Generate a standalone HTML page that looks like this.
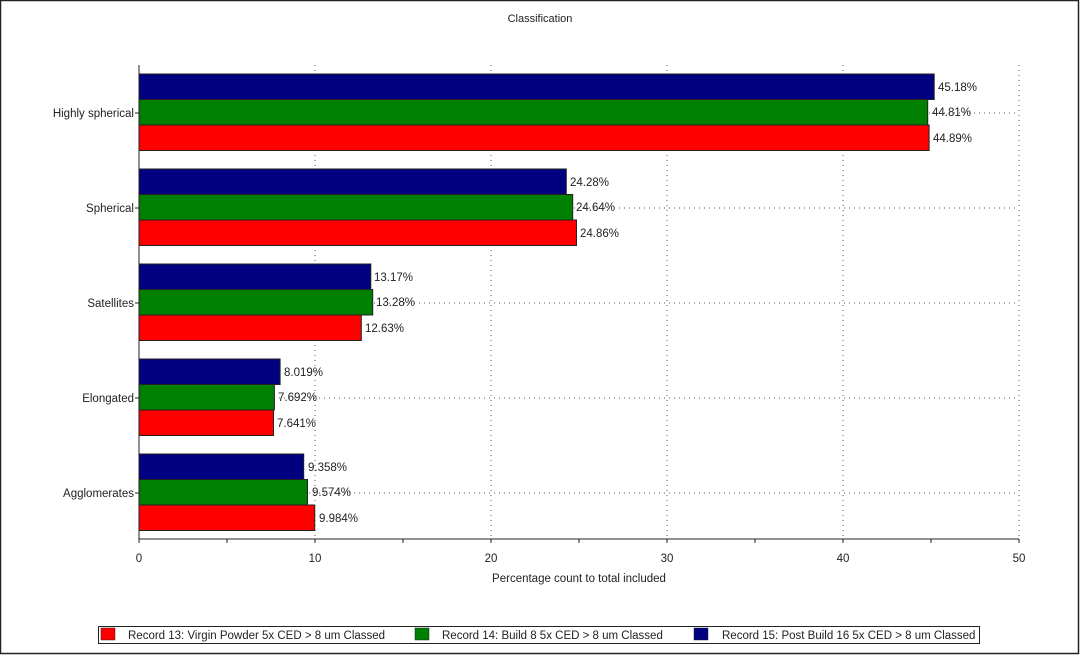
<!DOCTYPE html>
<html><head><meta charset="utf-8"><style>
html,body{margin:0;padding:0;background:#fff}
svg{display:block;font-family:"Liberation Sans",Arial,sans-serif}
</style></head><body>
<svg width="1080" height="655" viewBox="0 0 1080 655" xmlns="http://www.w3.org/2000/svg">
<rect x="0.5" y="0.5" width="1078" height="653" fill="#fff" stroke="#222" stroke-width="1.5"/>
<text x="540" y="22" font-size="11" text-anchor="middle" fill="#222">Classification</text>
<g stroke="#555" stroke-width="1" stroke-dasharray="1,4">
<line x1="315" y1="65" x2="315" y2="539"/><line x1="491" y1="65" x2="491" y2="539"/>
<line x1="667" y1="65" x2="667" y2="539"/><line x1="843" y1="65" x2="843" y2="539"/>
<line x1="1019" y1="65" x2="1019" y2="539"/>
<line x1="139" y1="113" x2="1019" y2="113"/><line x1="139" y1="208" x2="1019" y2="208"/>
<line x1="139" y1="303" x2="1019" y2="303"/><line x1="139" y1="398" x2="1019" y2="398"/>
<line x1="139" y1="493" x2="1019" y2="493"/>
</g>
<g stroke="#222" stroke-width="1">
<rect x="139" y="74" width="795.2" height="25.5" fill="#000080"/>
<rect x="139" y="99.5" width="788.7" height="25.5" fill="#008000"/>
<rect x="139" y="125" width="790.1" height="25.5" fill="#ff0000"/>
<rect x="139" y="169" width="427.3" height="25.5" fill="#000080"/>
<rect x="139" y="194.5" width="433.7" height="25.5" fill="#008000"/>
<rect x="139" y="220" width="437.5" height="25.5" fill="#ff0000"/>
<rect x="139" y="264" width="231.8" height="25.5" fill="#000080"/>
<rect x="139" y="289.5" width="233.7" height="25.5" fill="#008000"/>
<rect x="139" y="315" width="222.3" height="25.5" fill="#ff0000"/>
<rect x="139" y="359" width="141.1" height="25.5" fill="#000080"/>
<rect x="139" y="384.5" width="135.4" height="25.5" fill="#008000"/>
<rect x="139" y="410" width="134.5" height="25.5" fill="#ff0000"/>
<rect x="139" y="454" width="164.7" height="25.5" fill="#000080"/>
<rect x="139" y="479.5" width="168.5" height="25.5" fill="#008000"/>
<rect x="139" y="505" width="175.7" height="25.5" fill="#ff0000"/>
</g>
<g font-size="11.5" fill="#222">
<text x="938" y="91">45.18%</text><text x="932" y="116">44.81%</text><text x="933" y="142">44.89%</text>
<text x="570" y="186">24.28%</text><text x="576" y="211">24.64%</text><text x="580" y="237">24.86%</text>
<text x="374" y="281">13.17%</text><text x="376" y="306">13.28%</text><text x="365" y="332">12.63%</text>
<text x="284" y="376">8.019%</text><text x="278" y="401">7.692%</text><text x="277" y="427">7.641%</text>
<text x="308" y="471">9.358%</text><text x="312" y="496">9.574%</text><text x="319" y="522">9.984%</text>
</g>
<g stroke="#222" stroke-width="1">
<line x1="139" y1="65" x2="139" y2="539"/>
<line x1="139" y1="539" x2="1019" y2="539"/>
<line x1="135" y1="113" x2="139" y2="113"/><line x1="135" y1="208" x2="139" y2="208"/>
<line x1="135" y1="303" x2="139" y2="303"/><line x1="135" y1="398" x2="139" y2="398"/>
<line x1="135" y1="493" x2="139" y2="493"/>
<line x1="139" y1="539" x2="139" y2="543"/><line x1="227" y1="539" x2="227" y2="543"/>
<line x1="315" y1="539" x2="315" y2="543"/><line x1="403" y1="539" x2="403" y2="543"/>
<line x1="491" y1="539" x2="491" y2="543"/><line x1="579" y1="539" x2="579" y2="543"/>
<line x1="667" y1="539" x2="667" y2="543"/><line x1="755" y1="539" x2="755" y2="543"/>
<line x1="843" y1="539" x2="843" y2="543"/><line x1="931" y1="539" x2="931" y2="543"/>
<line x1="1019" y1="539" x2="1019" y2="543"/>
</g>
<g font-size="11.5" fill="#222" text-anchor="end">
<text x="134" y="117">Highly spherical</text><text x="134" y="212">Spherical</text>
<text x="134" y="307">Satellites</text><text x="134" y="402">Elongated</text>
<text x="134" y="497">Agglomerates</text>
</g>
<g font-size="11.5" fill="#222" text-anchor="middle">
<text x="139" y="562">0</text><text x="315" y="562">10</text><text x="491" y="562">20</text>
<text x="667" y="562">30</text><text x="843" y="562">40</text><text x="1019" y="562">50</text>
<text x="579" y="582">Percentage count to total included</text>
</g>
<rect x="98.5" y="626.5" width="881" height="17" fill="#fff" stroke="#222" stroke-width="1"/>
<rect x="101" y="628" width="14" height="12" fill="#ff0000" stroke="#222" stroke-width="0.5"/>
<rect x="415" y="628" width="14" height="12" fill="#008000" stroke="#222" stroke-width="0.5"/>
<rect x="694" y="628" width="14" height="12" fill="#000080" stroke="#222" stroke-width="0.5"/>
<g font-size="11.5" fill="#222">
<text x="128" y="639">Record 13: Virgin Powder 5x CED &gt; 8 um Classed</text>
<text x="442" y="639">Record 14: Build 8 5x CED &gt; 8 um Classed</text>
<text x="722" y="639">Record 15: Post Build 16 5x CED &gt; 8 um Classed</text>
</g>
</svg>
</body></html>
